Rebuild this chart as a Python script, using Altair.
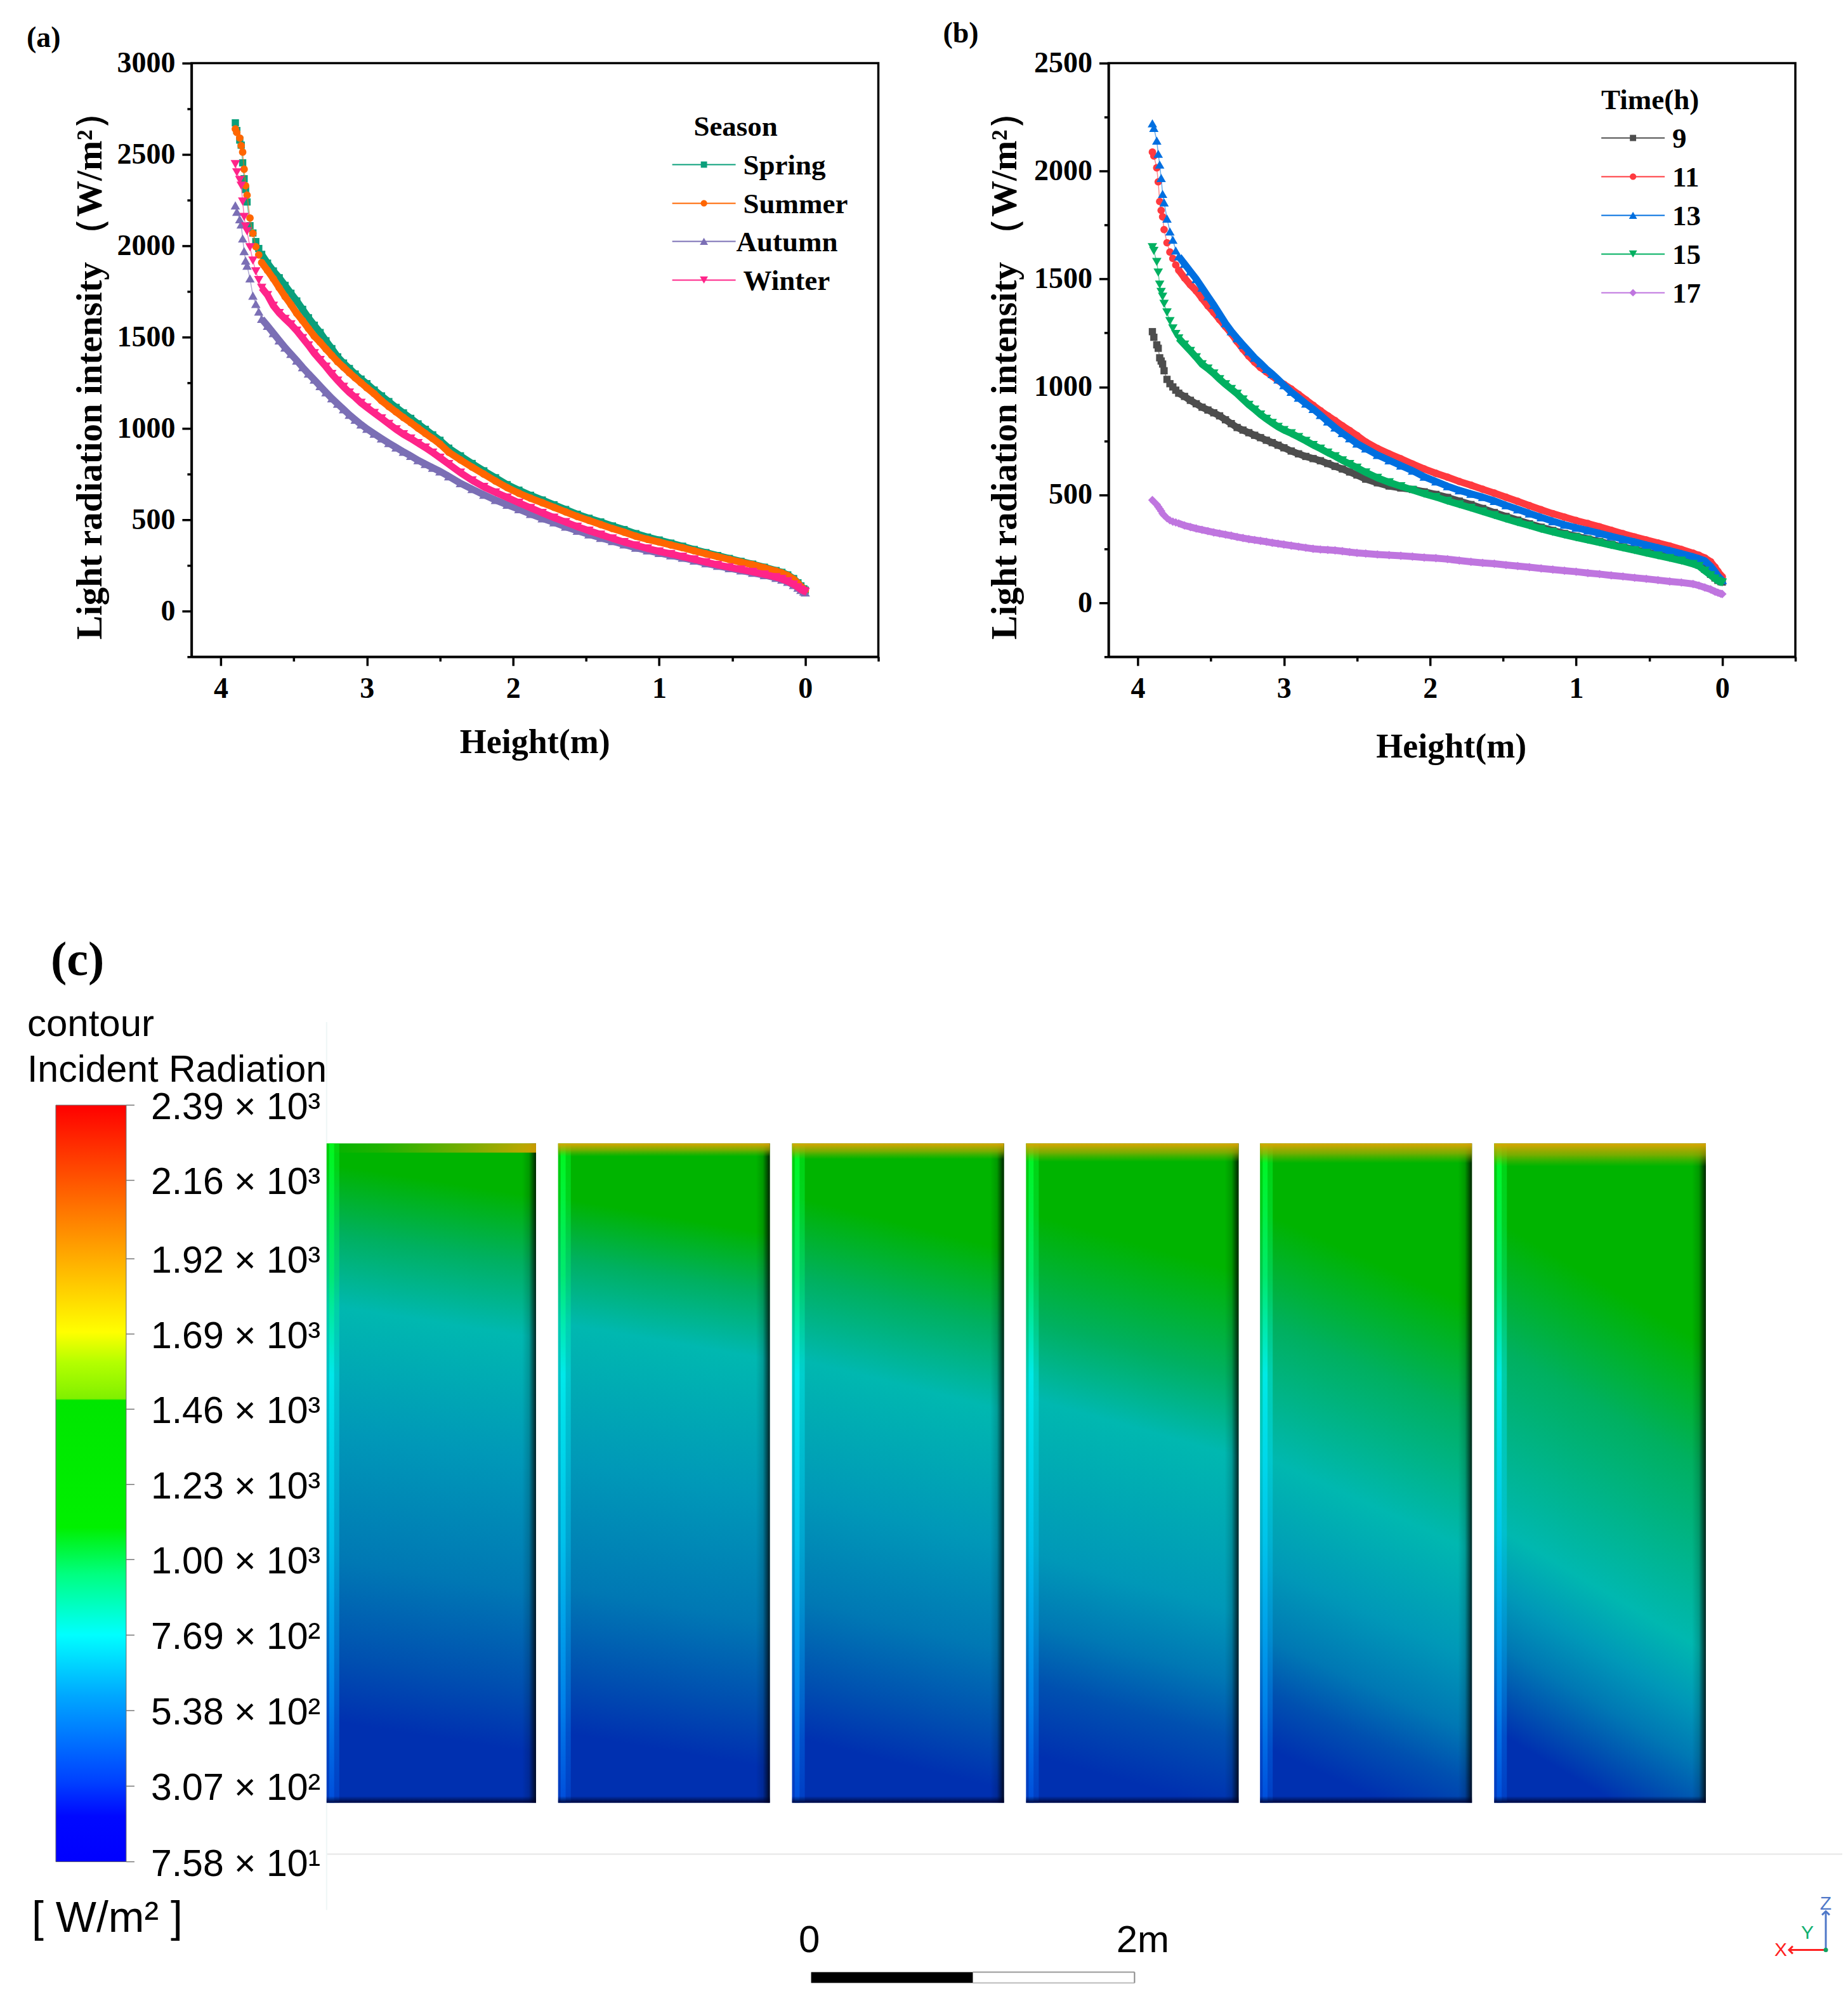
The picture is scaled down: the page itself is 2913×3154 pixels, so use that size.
import altair as alt
import pandas as pd

heights = [3.90,3.89,3.87,3.86,3.85,3.84,3.83,3.82,3.80,3.78,3.76,3.74,3.72,
 3.68,3.64,3.60,3.56,3.52,3.48,3.44,3.40,3.36,3.32,3.28,3.24,3.20,3.16,3.12,3.08,3.04,3.00,
 2.95,2.90,2.85,2.80,2.75,2.70,2.65,2.60,2.55,2.50,
 2.44,2.36,2.28,2.20,2.12,2.04,1.96,1.88,1.80,1.72,1.64,1.56,1.48,1.40,1.32,1.24,1.16,1.08,1.00,0.92,0.84,0.76,0.68,0.60,0.52,0.44,0.36,0.28,0.20,
 0.16,0.12,0.08,0.05,0.03,0.01,0.00]

spring = [2673,2631,2579,2551,2454,2367,2308,2240,2110,2070,2023,1985,1953,
 1905,1862,1825,1783,1740,1698,1652,1606,1565,1525,1480,1437,1392,1358,1328,1298,1270,1245,
 1210,1178,1147,1115,1085,1055,1025,995,965,935,
 892,850,808,768,730,692,662,634,608,582,556,530,508,488,466,446,424,405,389,372,355,337,320,304,288,272,257,240,222,
 212,198,178,155,138,122,115]
summer = [2640,2620,2590,2548,2513,2419,2329,2277,2152,2068,1995,1950,1908,
 1865,1820,1770,1722,1678,1630,1590,1547,1505,1472,1435,1400,1365,1335,1305,1277,1250,1222,
 1190,1152,1120,1090,1060,1032,1002,973,945,915,
 870,828,788,750,712,676,645,618,593,568,543,518,496,474,452,432,410,393,378,362,347,330,314,298,283,268,254,237,219,
 209,195,175,152,135,120,113]
autumn = [2221,2186,2145,2117,2040,1971,1919,1891,1821,1727,1682,1640,1600,
 1562,1522,1482,1443,1408,1372,1335,1300,1267,1232,1198,1165,1135,1105,1075,1048,1022,998,
 971,945,920,896,872,850,826,805,785,765,
 738,700,668,637,608,582,558,532,508,486,462,440,420,401,383,365,347,332,318,305,292,277,262,248,235,223,210,197,182,
 172,160,143,128,116,107,102]
winter = [2447,2402,2360,2329,2242,2158,2106,2079,1992,1919,1860,1812,1770,
 1730,1672,1632,1600,1570,1535,1495,1455,1412,1375,1338,1298,1262,1228,1197,1170,1140,1115,
 1085,1055,1025,995,968,945,920,895,868,840,
 805,758,716,680,650,622,593,565,538,512,487,462,440,419,398,378,360,343,327,313,298,283,268,253,240,228,215,201,186,
 176,163,146,130,118,110,105]

t09 = [1256,1230,1195,1179,1135,1120,1106,1075,1035,1015,1000,985,971,
 956,938,922,906,893,880,866,848,830,812,800,788,776,765,753,742,730,718,
 703,690,678,668,658,645,632,620,606,592,
 573,556,541,532,525,514,502,488,471,455,437,418,400,383,366,350,335,321,308,296,284,271,259,247,235,223,211,199,185,
 175,155,132,115,104,98,96]
t11 = [2088,2070,2015,1950,1859,1818,1788,1729,1668,1625,1595,1565,1541,
 1505,1473,1445,1410,1376,1345,1312,1280,1247,1210,1175,1143,1115,1090,1070,1050,1030,1012,
 990,965,940,915,890,866,844,820,798,775,
 745,715,690,667,643,620,600,582,562,545,526,508,489,470,450,431,413,397,381,367,352,336,320,305,291,277,263,247,230,
 220,208,190,165,145,127,120]
t13 = [2221,2200,2141,2080,2030,1968,1894,1855,1780,1720,1682,1632,1605,
 1570,1535,1500,1460,1420,1380,1338,1295,1258,1226,1195,1165,1135,1110,1083,1060,1035,1008,
 977,950,923,898,870,840,812,786,762,738,
 715,685,660,636,612,584,562,540,521,505,490,472,452,433,414,396,378,362,348,335,322,308,295,282,268,255,242,228,213,
 205,195,170,145,125,110,105]
t15 = [1647,1630,1579,1530,1474,1440,1418,1385,1345,1305,1271,1245,1225,
 1196,1167,1137,1105,1085,1062,1036,1012,990,968,942,917,895,872,852,833,815,800,
 785,768,750,731,714,696,679,660,643,626,
 604,579,558,540,523,505,490,472,456,440,423,406,389,373,358,342,328,315,303,291,279,267,255,243,231,219,207,195,180,
 170,148,128,112,102,96,94]
t17 = [476,468,455,445,435,425,413,405,392,382,376,372,368,
 358,351,344,338,332,326,321,316,311,305,300,295,291,287,283,278,274,270,
 265,260,255,250,247,245,243,239,235,231,
 228,224,221,218,214,210,207,202,196,190,185,181,175,170,165,159,154,149,144,138,133,127,122,116,111,105,99,94,87,
 80,71,62,52,47,42,41]

season_series = [("Spring", spring, "#0a9f7b", "square", 130),
                 ("Summer", summer, "#ff6600", "circle", 140),
                 ("Autumn", autumn, "#7b6fb5", "triangle-up", 220),
                 ("Winter", winter, "#ff2489", "triangle-down", 220)]
time_series = [("9", t09, "#4d4d4d", "square", 130),
               ("11", t11, "#ff3a3f", "circle", 140),
               ("13", t13, "#006fe0", "triangle-up", 220),
               ("15", t15, "#00b060", "triangle-down", 220),
               ("17", t17, "#bf75df", "diamond", 180)]

colorbar_values = [2390, 2160, 1920, 1690, 1460, 1230, 1000, 769, 538, 307, 75.8]
colorbar_labels = ["2.39 × 10³", "2.16 × 10³", "1.92 × 10³", "1.69 × 10³", "1.46 × 10³", "1.23 × 10³",
                   "1.00 × 10³", "7.69 × 10²", "5.38 × 10²", "3.07 × 10²", "7.58 × 10¹"]
colorbar_stops = [(0, "#ff0000"), (.12, "#ff6600"), (.20, "#ffaa00"), (.30, "#ffff00"), (.34, "#b4ff00"),
                  (.388, "#80f000"), (.39, "#00e600"), (.558, "#00f000"), (.62, "#00ff80"), (.70, "#00ffff"),
                  (.78, "#00a8ff"), (.895, "#0040ff"), (.94, "#0008ff"), (1, "#0000ff")]

# six walls, metres along the x axis
wall_left = [0, 1.415, 2.845, 4.275, 5.705, 7.136]
wall_right = [1.28, 2.709, 4.14, 5.574, 7.0, 8.43]
wall_top = 4.03
level_colors = ["#00b400", "#00b400", "#00b060", "#00b8b0", "#0098b8", "#0078b4", "#0050b0", "#0030b0", "#0030b0"]
wall_levels = [
    [0, .056, .16, .27, .46, .655, .80, .90, 1],
    [0, .11, .20, .30, .51, .70, .825, .92, 1],
    [0, .12, .24, .365, .57, .73, .85, .94, 1],
    [0, .15, .31, .43, .665, .77, .86, .97, 1],
    [0, .175, .34, .545, .71, .82, .90, .985, 1],
    [0, .21, .40, .675, .77, .85, .925, .985, 1],
]
wall_tilt = [.05, .055, .08, .09, .145, .19]
wall_cap = [.014, .02, .024, .028, .03, .035]
left_glow = [(0, "#00ff20"), (.2, "#00f070"), (.35, "#00f0f0"), (.6, "#00c8f0"), (.85, "#0088f0"), (1, "#0050e0")]

PX = 258.0
X0, X1, Y0, Y1 = 302, 2905, 1470, 3140
xdom = [(X0 - 515) / PX, (X1 - 515) / PX]
ydom = [(2841 - Y1) / PX, (2841 - Y0) / PX]
vdom = [75.8 + (2934 - Y1) * 2314.2 / 1193, 75.8 + (2934 - Y0) * 2314.2 / 1193]
xs = alt.Scale(domain=xdom, nice=False, zero=False)
ys = alt.Scale(domain=ydom, nice=False, zero=False)
vs = alt.Scale(domain=vdom, nice=False, zero=False)
SERIF = "Liberation Serif"
SANS = "Liberation Sans"
one = pd.DataFrame({"a": [0]})


def line_panel(series, ymax, minor, major, title, x_title_y, x_title_x, y_title_x, tag, tag_x, tag_y,
               legend_title, legend_title_xy, legend_ys, label_xs, line_x):
    yticks = list(range(-250, ymax + 1, minor))
    xticks = [4, 3.5, 3, 2.5, 2, 1.5, 1, .5, 0, -.5]
    X = alt.X("h:Q", scale=alt.Scale(domain=[4.2, -0.5], nice=False, zero=False),
              axis=alt.Axis(values=xticks, title="Height(m)", grid=False,
                            labelExpr="datum.value % 1 === 0 ? format(datum.value,'d') : ''",
                            tickSize={"condition": {"test": "datum.value % 1 === 0", "value": 14}, "value": 7},
                            labelFont=SERIF, labelFontWeight="bold", labelFontSize=46, labelPadding=14,
                            labelColor="black", tickColor="black", domainColor="black",
                            tickWidth=3.5, domainWidth=3.5, labelFlush=False, labelOverlap=False,
                            titleFont=SERIF, titleFontWeight="bold", titleFontSize=54, titleColor="black",
                            titleX=x_title_x, titleY=x_title_y, titleBaseline="middle"))
    Y = alt.Y("v:Q", scale=alt.Scale(domain=[-250, ymax], nice=False, zero=False),
              axis=alt.Axis(values=yticks, title=title, grid=False,
                            labelExpr=f"datum.value % {major} === 0 ? format(datum.value,'d') : ''",
                            tickSize={"condition": {"test": f"datum.value % {major} === 0", "value": 15}, "value": 7},
                            labelFont=SERIF, labelFontWeight="bold", labelFontSize=46, labelPadding=11,
                            labelColor="black", tickColor="black", domainColor="black",
                            tickWidth=3.5, domainWidth=3.5, labelFlush=False, labelOverlap=False,
                            titleFont=SERIF, titleFontWeight="bold", titleFontSize=57, titleColor="black",
                            titleX=y_title_x, titleY=478, titleAngle=270, titleBaseline="middle"))
    layers = []
    for name, vals, color, shape, size in series:
        d = pd.DataFrame({"h": heights, "v": vals})
        layers.append(alt.Chart(d).mark_line(color=color, strokeWidth=1.5, opacity=.6).encode(x=X, y=Y))
        layers.append(alt.Chart(d[d.h <= 3.72]).mark_line(color=color, strokeWidth=11).encode(x=X, y=Y))
        layers.append(alt.Chart(d).mark_point(filled=True, color=color, shape=shape, size=size, opacity=1,
                                              strokeWidth=0).encode(x=X, y=Y))
    for (name, vals, color, shape, size), ly, lx in zip(series, legend_ys, label_xs):
        layers.append(alt.Chart(one).mark_rule(color=color, strokeWidth=2).encode(
            x=alt.value(line_x), x2=alt.value(line_x + 100), y=alt.value(ly)))
        layers.append(alt.Chart(one).mark_point(filled=True, color=color, shape=shape, size=size * .75, opacity=1,
                                                strokeWidth=0).encode(x=alt.value(line_x + 50), y=alt.value(ly)))
        layers.append(alt.Chart(one).mark_text(font=SERIF, fontWeight="bold", fontSize=45, align="left",
                                               baseline="middle", color="black", dy=2).encode(
            x=alt.value(lx), y=alt.value(ly), text=alt.value(name)))
    layers.append(alt.Chart(one).mark_text(font=SERIF, fontWeight="bold", fontSize=45, align="center",
                                           baseline="middle", color="black", dy=1).encode(
        x=alt.value(legend_title_xy[0]), y=alt.value(legend_title_xy[1]), text=alt.value(legend_title)))
    layers.append(alt.Chart(one).mark_text(font=SERIF, fontWeight="bold", fontSize=46, align="left",
                                           baseline="middle", color="black").encode(
        x=alt.value(tag_x), y=alt.value(tag_y), text=alt.value(tag)))
    return alt.layer(*layers).properties(width=1083, height=936,
                                         view=alt.ViewBackground(stroke="black", strokeWidth=3.5))


Y_TITLE = "Light radiation intensity （W/m²）"
panel_a = line_panel(season_series, 3000, 250, 500, Y_TITLE, 135, 541, -159, "(a)", -260, -40,
                     "Season", (858, 100), [160, 221, 281, 342], [870, 870, 859, 870], 758)
panel_b = line_panel(time_series, 2500, 250, 500, Y_TITLE, 142, 540, -163, "(b)", -261, -47,
                     "Time(h)", (854, 58), [118, 179, 240, 301, 362], [889] * 5, 777)


def grad(stops, x1=0.0, y1=0.0, x2=0.0, y2=1.0):
    return alt.Gradient(gradient="linear", x1=x1, y1=y1, x2=x2, y2=y2,
                        stops=[alt.GradientStop(offset=o, color=c) for o, c in stops])


def box(x0, x1, y0, y1, fill, opacity=1.0):
    d = pd.DataFrame({"x0": [x0], "x1": [x1], "y0": [y0], "y1": [y1]})
    return alt.Chart(d).mark_rect(fill=fill, opacity=opacity, strokeWidth=0).encode(
        x=alt.X("x0:Q", scale=xs, axis=None), x2="x1:Q",
        y=alt.Y("y0:Q", scale=ys, axis=None), y2="y1:Q")


def note(x, y, text, font=SANS, size=58, align="left", color="black", weight="normal"):
    d = pd.DataFrame({"x": [x], "y": [y], "t": [text]})
    return alt.Chart(d).mark_text(font=font, fontSize=size, align=align, baseline="middle", color=color,
                                  fontWeight=weight, dy=3).encode(
        x=alt.X("x:Q", scale=xs, axis=None), y=alt.Y("y:Q", scale=ys, axis=None), text="t:N")


def seg(x0, x1, y0, y1, color, width):
    d = pd.DataFrame({"x0": [x0], "x1": [x1], "y0": [y0], "y1": [y1]})
    return alt.Chart(d).mark_rule(color=color, strokeWidth=width).encode(
        x=alt.X("x0:Q", scale=xs, axis=None), x2="x1:Q",
        y=alt.Y("y0:Q", scale=ys, axis=None), y2="y1:Q")


def mx(px):
    return (px - 515) / PX


def my(px):
    return (2841 - px) / PX


main = []
main.append(seg(0, mx(2905), my(2922), my(2922), "#e6e6e6", 2))
main.append(seg(0, 0, my(1610), my(3010), "#eef6f6", 2))
for i in range(6):
    l, r = wall_left[i], wall_right[i]
    k = wall_tilt[i]
    m = 1 / (1 + k * k)
    stops = list(zip(wall_levels[i], level_colors))
    main.append(box(l, r, 0, wall_top, grad(stops, x1=.5, y1=0, x2=.5 - k * m, y2=m)))
    main.append(box(l, l + 4 / PX, 0, wall_top, grad(left_glow), .35))
    main.append(box(l + 4 / PX, l + 12 / PX, 0, wall_top, grad(left_glow), .9))
    main.append(box(l + 12 / PX, l + 20 / PX, 0, wall_top, grad(left_glow), .45))
    main.append(box(r - 22 / PX, r, 0, wall_top,
                    grad([(0, "rgba(0,0,0,0)"), (.5, "rgba(0,0,0,0.15)"), (1, "rgba(0,0,0,0.8)")], x1=0, y1=0, x2=1, y2=0)))
    if i == 0:
        cap_fill = grad([(0, "rgba(222,165,0,0)"), (.25, "rgba(200,170,0,0.15)"), (1, "rgba(222,165,0,0.9)")], x1=0, y1=0, x2=1, y2=0)
    else:
        cap_fill = grad([(0, "rgba(222,165,0,1)"), (.5, "rgba(170,170,0,0.7)"), (1, "rgba(120,180,0,0)")])
    main.append(box(l, r, wall_top * (1 - wall_cap[i]), wall_top, cap_fill))
    main.append(box(l, r, 0, .04, grad([(0, "rgba(0,0,30,0)"), (1, "rgba(0,0,40,0.85)")])))

main.append(note(mx(80), my(1510), "(c)", font=SERIF, size=76, weight="bold"))
main.append(note(mx(43), my(1611), "contour", size=60))
main.append(note(mx(43), my(1683), "Incident Radiation", size=59))
main.append(note(mx(50), my(3022), "[ W/m² ]", size=68))
main.append(note(mx(1276), my(3056), "0", size=60, align="center"))
main.append(note(mx(1802), my(3056), "2m", size=60, align="center"))
bar0, barm, bar1 = mx(1279), mx(1534), mx(1789)
main.append(box(barm, bar1, my(3125), my(3108), "#ffffff"))
main.append(seg(barm, bar1, my(3108), my(3108), "#999999", 2))
main.append(seg(barm, bar1, my(3125), my(3125), "#bbbbbb", 2))
main.append(seg(bar1, bar1, my(3108), my(3125), "#888888", 2))
main.append(box(bar0, barm, my(3125), my(3108), "#000000"))
ox, oy = mx(2879), my(3073)
main.append(seg(ox, ox, oy, my(3012), "#4f78c8", 3))
main.append(seg(ox, mx(2821), oy, oy, "#ff2020", 3))
main.append(alt.Chart(pd.DataFrame({"x": [ox], "y": [oy]})).mark_point(filled=True, color="#10a060", size=50, opacity=1).encode(
    x=alt.X("x:Q", scale=xs, axis=None), y=alt.Y("y:Q", scale=ys, axis=None)))
main.append(alt.Chart(pd.DataFrame({"x": [ox], "y": [my(3012)]})).mark_point(
    shape="M-1,1L0,0L1,1", size=140, color="#4f78c8", strokeWidth=3, filled=False, opacity=1).encode(
    x=alt.X("x:Q", scale=xs, axis=None), y=alt.Y("y:Q", scale=ys, axis=None)))
main.append(alt.Chart(pd.DataFrame({"x": [mx(2821)], "y": [oy]})).mark_point(
    shape="M1,-1L0,0L1,1", size=140, color="#ff2020", strokeWidth=3, filled=False, opacity=1).encode(
    x=alt.X("x:Q", scale=xs, axis=None), y=alt.Y("y:Q", scale=ys, axis=None)))
main.append(note(ox, my(2997), "Z", size=30, align="center", color="#4f78c8"))
main.append(note(mx(2850), my(3044), "Y", size=30, align="center", color="#10b070"))
main.append(note(mx(2808), my(3071), "X", size=30, align="center", color="#ff2020"))

cb_left, cb_right, cb_tick, cb_text = mx(88), mx(199), mx(212), mx(238)
cb_bar = pd.DataFrame({"x0": [cb_left], "x1": [cb_right], "v0": [colorbar_values[-1]], "v1": [colorbar_values[0]]})
cb_ticks = pd.DataFrame({"x0": [cb_right] * len(colorbar_values), "x1": [cb_tick] * len(colorbar_values),
                         "v": colorbar_values, "t": colorbar_labels, "xt": [cb_text] * len(colorbar_values)})
cb = alt.layer(
    alt.Chart(cb_bar).mark_rect(fill=grad([(o, c) for o, c in colorbar_stops]), stroke="#666666", strokeWidth=1).encode(
        x=alt.X("x0:Q", scale=xs, axis=None), x2="x1:Q", y=alt.Y("v1:Q", scale=vs, axis=None), y2="v0:Q"),
    alt.Chart(cb_ticks).mark_rule(color="#777777", strokeWidth=1.5).encode(
        x=alt.X("x0:Q", scale=xs, axis=None), x2="x1:Q", y=alt.Y("v:Q", scale=vs, axis=None)),
    alt.Chart(cb_ticks).mark_text(font=SANS, fontSize=59, align="left", baseline="middle", color="black", dy=4).encode(
        x=alt.X("xt:Q", scale=xs, axis=None), y=alt.Y("v:Q", scale=vs, axis=None), text="t:N"),
)
bottom = alt.layer(alt.layer(*main), cb).resolve_scale(y="independent").properties(
    width=X1 - X0, height=Y1 - Y0, view=alt.ViewBackground(stroke=None))

top = alt.hconcat(panel_a, panel_b, spacing=363, bounds="flush")
chart = alt.vconcat(top, bottom, spacing=265).properties(
    padding={"left": 32, "top": 19, "right": 0, "bottom": 0}, background="white")
chart.save("out.html", embed_options={"renderer": "svg", "actions": False})
